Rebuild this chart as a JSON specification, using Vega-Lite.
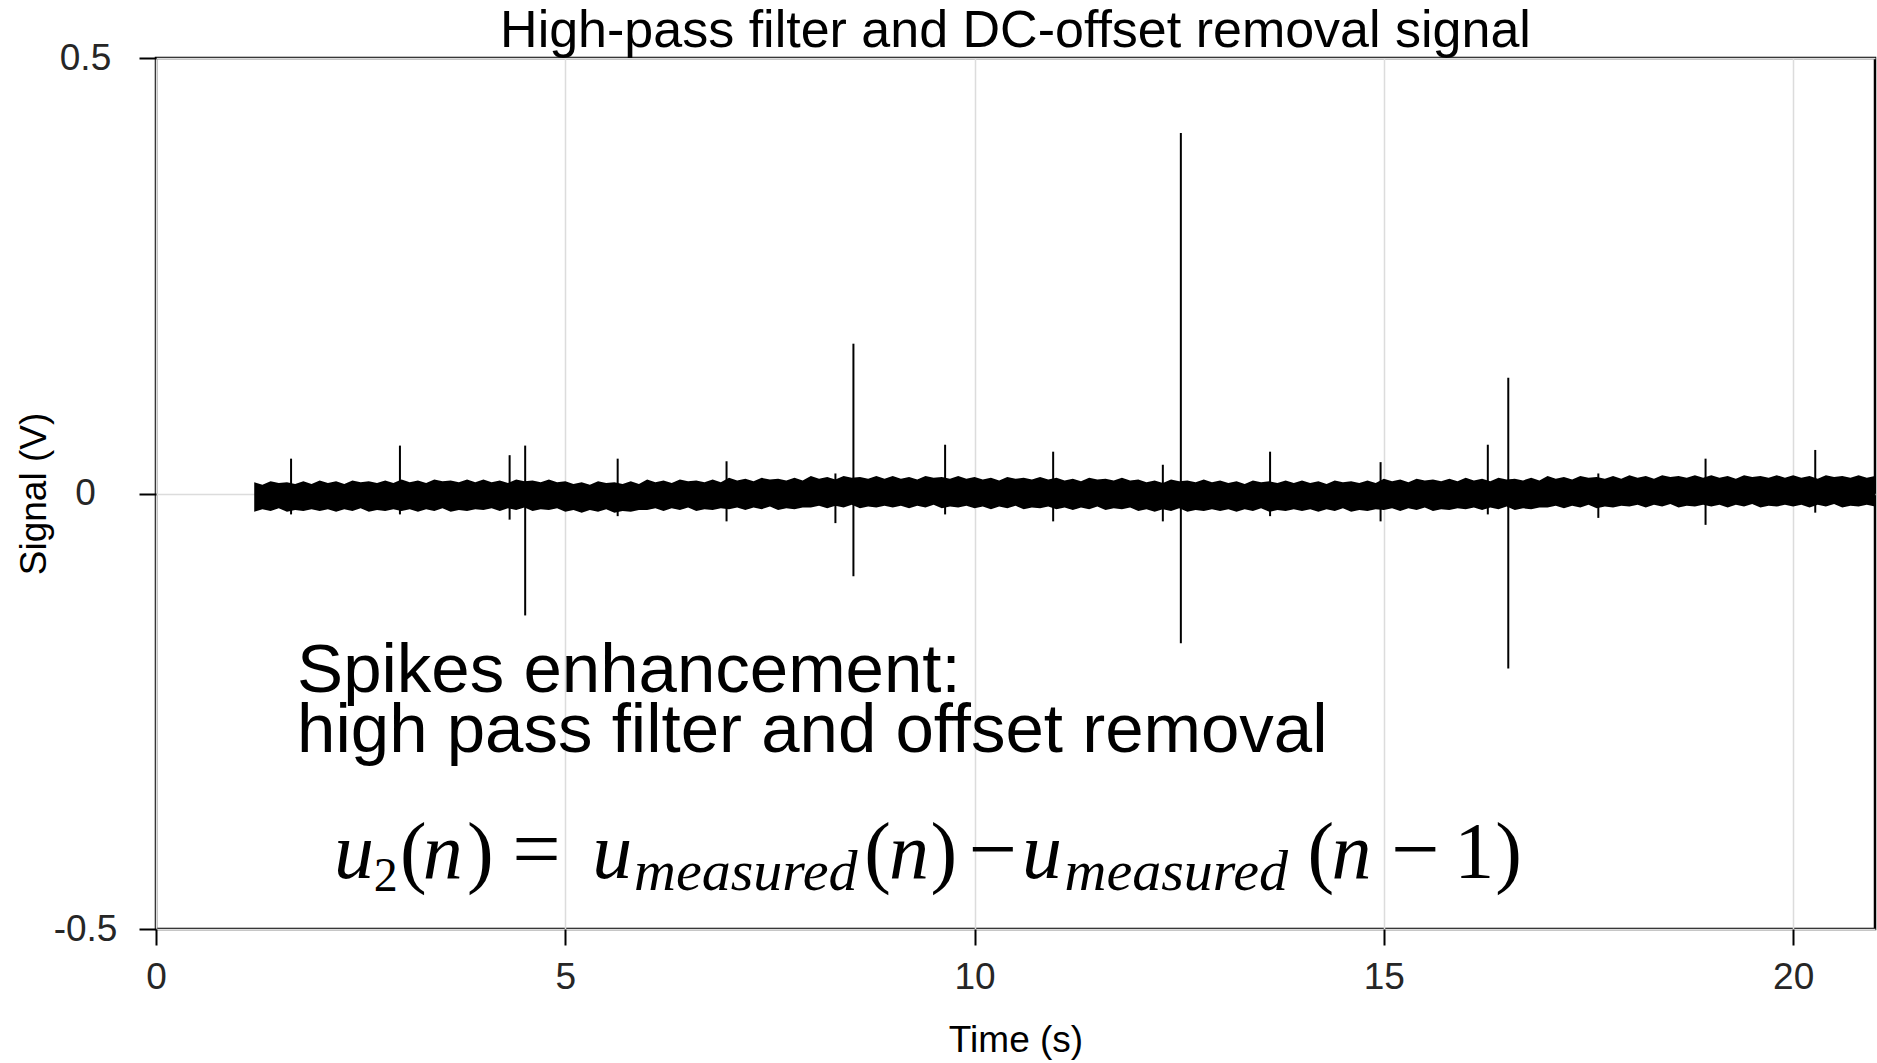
{
"$schema": "https://vega.github.io/schema/vega-lite/v6.json",
"width": 1719, "height": 871,
"autosize": {"type": "none"},
"padding": {"left": 156, "top": 58, "right": 2, "bottom": 134},
"background": "white",
"config": {"view": {"stroke": "black", "strokeWidth": 2.5}},
"title": {"text": "High-pass filter and DC-offset removal signal", "fontSize": 52, "font": "Liberation Sans", "fontWeight": "normal", "color": "black", "anchor": "middle", "frame": "group", "baseline": "alphabetic", "offset": 12, "dy": 72},
"datasets": {
"band": [
{"t":1.2,"hi":0.013,"lo":-0.021},{"t":1.3,"hi":0.010,"lo":-0.018},{"t":1.4,"hi":0.014,"lo":-0.020},{"t":1.5,"hi":0.012,"lo":-0.017},{"t":1.6,"hi":0.013,"lo":-0.021},{"t":1.7,"hi":0.011,"lo":-0.019},{"t":1.8,"hi":0.014,"lo":-0.020},{"t":1.9,"hi":0.011,"lo":-0.018},
{"t":2.0,"hi":0.015,"lo":-0.020},{"t":2.1,"hi":0.012,"lo":-0.018},{"t":2.2,"hi":0.014,"lo":-0.021},{"t":2.3,"hi":0.011,"lo":-0.018},{"t":2.4,"hi":0.015,"lo":-0.020},{"t":2.5,"hi":0.013,"lo":-0.017},{"t":2.6,"hi":0.014,"lo":-0.021},{"t":2.7,"hi":0.012,"lo":-0.019},{"t":2.8,"hi":0.015,"lo":-0.020},{"t":2.9,"hi":0.012,"lo":-0.018},
{"t":3.0,"hi":0.016,"lo":-0.020},{"t":3.1,"hi":0.013,"lo":-0.018},{"t":3.2,"hi":0.015,"lo":-0.021},{"t":3.3,"hi":0.012,"lo":-0.018},{"t":3.4,"hi":0.016,"lo":-0.020},{"t":3.5,"hi":0.014,"lo":-0.017},{"t":3.6,"hi":0.015,"lo":-0.021},{"t":3.7,"hi":0.013,"lo":-0.019},{"t":3.8,"hi":0.016,"lo":-0.020},{"t":3.9,"hi":0.013,"lo":-0.018},
{"t":4.0,"hi":0.016,"lo":-0.019},{"t":4.1,"hi":0.013,"lo":-0.017},{"t":4.2,"hi":0.015,"lo":-0.020},{"t":4.3,"hi":0.012,"lo":-0.017},{"t":4.4,"hi":0.016,"lo":-0.019},{"t":4.5,"hi":0.014,"lo":-0.016},{"t":4.6,"hi":0.015,"lo":-0.020},{"t":4.7,"hi":0.013,"lo":-0.018},{"t":4.8,"hi":0.016,"lo":-0.019},{"t":4.9,"hi":0.013,"lo":-0.017},
{"t":5.0,"hi":0.014,"lo":-0.021},{"t":5.1,"hi":0.011,"lo":-0.019},{"t":5.2,"hi":0.013,"lo":-0.022},{"t":5.3,"hi":0.010,"lo":-0.019},{"t":5.4,"hi":0.014,"lo":-0.021},{"t":5.5,"hi":0.012,"lo":-0.018},{"t":5.6,"hi":0.013,"lo":-0.022},{"t":5.7,"hi":0.011,"lo":-0.020},{"t":5.8,"hi":0.014,"lo":-0.021},{"t":5.9,"hi":0.011,"lo":-0.019},
{"t":6.0,"hi":0.016,"lo":-0.019},{"t":6.1,"hi":0.013,"lo":-0.017},{"t":6.2,"hi":0.015,"lo":-0.020},{"t":6.3,"hi":0.012,"lo":-0.017},{"t":6.4,"hi":0.016,"lo":-0.019},{"t":6.5,"hi":0.014,"lo":-0.016},{"t":6.6,"hi":0.015,"lo":-0.020},{"t":6.7,"hi":0.013,"lo":-0.018},{"t":6.8,"hi":0.016,"lo":-0.019},{"t":6.9,"hi":0.013,"lo":-0.017},
{"t":7.0,"hi":0.018,"lo":-0.018},{"t":7.1,"hi":0.015,"lo":-0.016},{"t":7.2,"hi":0.017,"lo":-0.019},{"t":7.3,"hi":0.014,"lo":-0.016},{"t":7.4,"hi":0.018,"lo":-0.018},{"t":7.5,"hi":0.016,"lo":-0.015},{"t":7.6,"hi":0.017,"lo":-0.019},{"t":7.7,"hi":0.015,"lo":-0.017},{"t":7.8,"hi":0.018,"lo":-0.018},{"t":7.9,"hi":0.015,"lo":-0.016},
{"t":8.0,"hi":0.020,"lo":-0.016},{"t":8.1,"hi":0.017,"lo":-0.014},{"t":8.2,"hi":0.019,"lo":-0.017},{"t":8.3,"hi":0.016,"lo":-0.014},{"t":8.4,"hi":0.020,"lo":-0.016},{"t":8.5,"hi":0.018,"lo":-0.013},{"t":8.6,"hi":0.019,"lo":-0.017},{"t":8.7,"hi":0.017,"lo":-0.015},{"t":8.8,"hi":0.020,"lo":-0.016},{"t":8.9,"hi":0.017,"lo":-0.014},
{"t":9.0,"hi":0.020,"lo":-0.016},{"t":9.1,"hi":0.017,"lo":-0.014},{"t":9.2,"hi":0.019,"lo":-0.017},{"t":9.3,"hi":0.016,"lo":-0.014},{"t":9.4,"hi":0.020,"lo":-0.016},{"t":9.5,"hi":0.018,"lo":-0.013},{"t":9.6,"hi":0.019,"lo":-0.017},{"t":9.7,"hi":0.017,"lo":-0.015},{"t":9.8,"hi":0.020,"lo":-0.016},{"t":9.9,"hi":0.017,"lo":-0.014},
{"t":10.0,"hi":0.019,"lo":-0.017},{"t":10.1,"hi":0.016,"lo":-0.015},{"t":10.2,"hi":0.018,"lo":-0.018},{"t":10.3,"hi":0.015,"lo":-0.015},{"t":10.4,"hi":0.019,"lo":-0.017},{"t":10.5,"hi":0.017,"lo":-0.014},{"t":10.6,"hi":0.018,"lo":-0.018},{"t":10.7,"hi":0.016,"lo":-0.016},{"t":10.8,"hi":0.019,"lo":-0.017},{"t":10.9,"hi":0.016,"lo":-0.015},
{"t":11.0,"hi":0.018,"lo":-0.018},{"t":11.1,"hi":0.015,"lo":-0.016},{"t":11.2,"hi":0.017,"lo":-0.019},{"t":11.3,"hi":0.014,"lo":-0.016},{"t":11.4,"hi":0.018,"lo":-0.018},{"t":11.5,"hi":0.016,"lo":-0.015},{"t":11.6,"hi":0.017,"lo":-0.019},{"t":11.7,"hi":0.015,"lo":-0.017},{"t":11.8,"hi":0.018,"lo":-0.018},{"t":11.9,"hi":0.015,"lo":-0.016},
{"t":12.0,"hi":0.016,"lo":-0.020},{"t":12.1,"hi":0.013,"lo":-0.018},{"t":12.2,"hi":0.015,"lo":-0.021},{"t":12.3,"hi":0.012,"lo":-0.018},{"t":12.4,"hi":0.016,"lo":-0.020},{"t":12.5,"hi":0.014,"lo":-0.017},{"t":12.6,"hi":0.015,"lo":-0.021},{"t":12.7,"hi":0.013,"lo":-0.019},{"t":12.8,"hi":0.016,"lo":-0.020},{"t":12.9,"hi":0.013,"lo":-0.018},
{"t":13.0,"hi":0.015,"lo":-0.020},{"t":13.1,"hi":0.012,"lo":-0.018},{"t":13.2,"hi":0.014,"lo":-0.021},{"t":13.3,"hi":0.011,"lo":-0.018},{"t":13.4,"hi":0.015,"lo":-0.020},{"t":13.5,"hi":0.013,"lo":-0.017},{"t":13.6,"hi":0.014,"lo":-0.021},{"t":13.7,"hi":0.012,"lo":-0.019},{"t":13.8,"hi":0.015,"lo":-0.020},{"t":13.9,"hi":0.012,"lo":-0.018},
{"t":14.0,"hi":0.015,"lo":-0.020},{"t":14.1,"hi":0.012,"lo":-0.018},{"t":14.2,"hi":0.014,"lo":-0.021},{"t":14.3,"hi":0.011,"lo":-0.018},{"t":14.4,"hi":0.015,"lo":-0.020},{"t":14.5,"hi":0.013,"lo":-0.017},{"t":14.6,"hi":0.014,"lo":-0.021},{"t":14.7,"hi":0.012,"lo":-0.019},{"t":14.8,"hi":0.015,"lo":-0.020},{"t":14.9,"hi":0.012,"lo":-0.018},
{"t":15.0,"hi":0.017,"lo":-0.019},{"t":15.1,"hi":0.014,"lo":-0.017},{"t":15.2,"hi":0.016,"lo":-0.020},{"t":15.3,"hi":0.013,"lo":-0.017},{"t":15.4,"hi":0.017,"lo":-0.019},{"t":15.5,"hi":0.015,"lo":-0.016},{"t":15.6,"hi":0.016,"lo":-0.020},{"t":15.7,"hi":0.014,"lo":-0.018},{"t":15.8,"hi":0.017,"lo":-0.019},{"t":15.9,"hi":0.014,"lo":-0.017},
{"t":16.0,"hi":0.018,"lo":-0.018},{"t":16.1,"hi":0.015,"lo":-0.016},{"t":16.2,"hi":0.017,"lo":-0.019},{"t":16.3,"hi":0.014,"lo":-0.016},{"t":16.4,"hi":0.018,"lo":-0.018},{"t":16.5,"hi":0.016,"lo":-0.015},{"t":16.6,"hi":0.017,"lo":-0.019},{"t":16.7,"hi":0.015,"lo":-0.017},{"t":16.8,"hi":0.018,"lo":-0.018},{"t":16.9,"hi":0.015,"lo":-0.016},
{"t":17.0,"hi":0.020,"lo":-0.016},{"t":17.1,"hi":0.017,"lo":-0.014},{"t":17.2,"hi":0.019,"lo":-0.017},{"t":17.3,"hi":0.016,"lo":-0.014},{"t":17.4,"hi":0.020,"lo":-0.016},{"t":17.5,"hi":0.018,"lo":-0.013},{"t":17.6,"hi":0.019,"lo":-0.017},{"t":17.7,"hi":0.017,"lo":-0.015},{"t":17.8,"hi":0.020,"lo":-0.016},{"t":17.9,"hi":0.017,"lo":-0.014},
{"t":18.0,"hi":0.021,"lo":-0.015},{"t":18.1,"hi":0.018,"lo":-0.013},{"t":18.2,"hi":0.020,"lo":-0.016},{"t":18.3,"hi":0.017,"lo":-0.013},{"t":18.4,"hi":0.021,"lo":-0.015},{"t":18.5,"hi":0.019,"lo":-0.012},{"t":18.6,"hi":0.020,"lo":-0.016},{"t":18.7,"hi":0.018,"lo":-0.014},{"t":18.8,"hi":0.021,"lo":-0.015},{"t":18.9,"hi":0.018,"lo":-0.013},
{"t":19.0,"hi":0.021,"lo":-0.015},{"t":19.1,"hi":0.018,"lo":-0.013},{"t":19.2,"hi":0.020,"lo":-0.016},{"t":19.3,"hi":0.017,"lo":-0.013},{"t":19.4,"hi":0.021,"lo":-0.015},{"t":19.5,"hi":0.019,"lo":-0.012},{"t":19.6,"hi":0.020,"lo":-0.016},{"t":19.7,"hi":0.018,"lo":-0.014},{"t":19.8,"hi":0.021,"lo":-0.015},{"t":19.9,"hi":0.018,"lo":-0.013},
{"t":20.0,"hi":0.021,"lo":-0.015},{"t":20.1,"hi":0.018,"lo":-0.013},{"t":20.2,"hi":0.020,"lo":-0.016},{"t":20.3,"hi":0.017,"lo":-0.013},{"t":20.4,"hi":0.021,"lo":-0.015},{"t":20.5,"hi":0.019,"lo":-0.012},{"t":20.6,"hi":0.020,"lo":-0.016},{"t":20.7,"hi":0.018,"lo":-0.014},{"t":20.8,"hi":0.021,"lo":-0.015},{"t":20.9,"hi":0.018,"lo":-0.013},{"t":21.0,"hi":0.020,"lo":-0.015}
],
"spikes": [
{"t":1.65,"top":0.040,"bottom":-0.024},{"t":2.98,"top":0.055,"bottom":-0.024},{"t":4.32,"top":0.044,"bottom":-0.030},{"t":4.51,"top":0.055,"bottom":-0.140},{"t":5.64,"top":0.040,"bottom":-0.026},{"t":6.97,"top":0.037,"bottom":-0.032},{"t":8.30,"top":0.023,"bottom":-0.034},{"t":8.52,"top":0.172,"bottom":-0.095},{"t":9.64,"top":0.056,"bottom":-0.024},{"t":10.96,"top":0.048,"bottom":-0.032},{"t":12.30,"top":0.033,"bottom":-0.032},{"t":12.52,"top":0.414,"bottom":-0.172},{"t":13.61,"top":0.048,"bottom":-0.026},{"t":14.96,"top":0.036,"bottom":-0.032},{"t":16.27,"top":0.056,"bottom":-0.024},{"t":16.52,"top":0.133,"bottom":-0.201},{"t":17.62,"top":0.023,"bottom":-0.028},{"t":18.93,"top":0.040,"bottom":-0.036},{"t":20.27,"top":0.050,"bottom":-0.022}
]
},
"layer": [
{"data": {"name": "band"},
 "mark": {"type": "area", "color": "black", "interpolate": "linear"},
 "encoding": {
  "x": {"field": "t", "type": "quantitative", "scale": {"domain": [0, 21], "nice": false, "zero": false},
    "axis": {"values": [0,5,10,15,20], "format": "d", "labelFlush": false, "grid": true, "gridColor": "#dcdcdc", "gridWidth": 1.5, "domain": false, "tickColor": "black", "tickWidth": 2, "tickSize": 16, "labelFont": "Liberation Sans", "labelFontSize": 37, "labelColor": "#262626", "labelPadding": 14, "title": "Time (s)", "titleFont": "Liberation Sans", "titleFontSize": 37, "titleFontWeight": "normal", "titleColor": "black", "titlePadding": 27}},
  "y": {"field": "hi", "type": "quantitative", "scale": {"domain": [-0.5, 0.5], "nice": false, "zero": false},
    "axis": {"values": [-0.5, 0, 0.5], "labelExpr": "datum.value == 0 ? '0' : (datum.value > 0 ? '0.5' : '-0.5')", "labelFlush": false, "grid": true, "gridColor": "#dcdcdc", "gridWidth": 1.5, "domain": false, "tickColor": "black", "tickWidth": 2, "tickSize": 17, "labelFont": "Liberation Sans", "labelFontSize": 37, "labelColor": "#262626", "labelAlign": "center", "labelBaseline": "middle", "labelPadding": 54, "title": "Signal (V)", "titleFont": "Liberation Sans", "titleFontSize": 37, "titleFontWeight": "normal", "titleColor": "black", "titleAngle": -90, "titleBaseline": "alphabetic", "titleX": -111}},
  "y2": {"field": "lo"}
 }},
{"data": {"name": "spikes"},
 "mark": {"type": "rule", "color": "black", "strokeWidth": 2},
 "encoding": {"x": {"field": "t", "type": "quantitative"}, "y": {"field": "top", "type": "quantitative"}, "y2": {"field": "bottom"}}},
{"data": {"values": [{}]},
 "mark": {"type": "text", "text": ["Spikes enhancement:", "high pass filter and offset removal"], "lineHeight": 60, "font": "Liberation Sans", "fontSize": 69, "align": "left", "baseline": "alphabetic", "fill": "black"},
 "encoding": {"x": {"datum": 1.724, "type": "quantitative"}, "y": {"datum": -0.228, "type": "quantitative"}}},
{"data": {"values": [{}]}, "mark": {"type": "text", "text": "u", "font": "Liberation Serif", "fontStyle": "italic", "fontSize": 80, "align": "left", "baseline": "alphabetic", "fill": "black"}, "encoding": {"x": {"datum": 2.176, "type": "quantitative"}, "y": {"datum": -0.4415, "type": "quantitative"}}},
{"data": {"values": [{}]}, "mark": {"type": "text", "text": "2", "font": "Liberation Serif", "fontSize": 48, "align": "left", "baseline": "alphabetic", "fill": "black"}, "encoding": {"x": {"datum": 2.66, "type": "quantitative"}, "y": {"datum": -0.456, "type": "quantitative"}}},
{"data": {"values": [{}]}, "mark": {"type": "text", "text": "(", "font": "Liberation Serif", "fontSize": 80, "align": "left", "baseline": "alphabetic", "fill": "black"}, "encoding": {"x": {"datum": 2.98, "type": "quantitative"}, "y": {"datum": -0.4415, "type": "quantitative"}}},
{"data": {"values": [{}]}, "mark": {"type": "text", "text": "n", "font": "Liberation Serif", "fontStyle": "italic", "fontSize": 80, "align": "left", "baseline": "alphabetic", "fill": "black"}, "encoding": {"x": {"datum": 3.26, "type": "quantitative"}, "y": {"datum": -0.4415, "type": "quantitative"}}},
{"data": {"values": [{}]}, "mark": {"type": "text", "text": ")", "font": "Liberation Serif", "fontSize": 80, "align": "left", "baseline": "alphabetic", "fill": "black"}, "encoding": {"x": {"datum": 3.8, "type": "quantitative"}, "y": {"datum": -0.4415, "type": "quantitative"}}},
{"data": {"values": [{}]}, "mark": {"type": "text", "text": "=", "font": "Liberation Serif", "fontSize": 86, "align": "left", "baseline": "alphabetic", "fill": "black"}, "encoding": {"x": {"datum": 4.353, "type": "quantitative"}, "y": {"datum": -0.4415, "type": "quantitative"}}},
{"data": {"values": [{}]}, "mark": {"type": "text", "text": "u", "font": "Liberation Serif", "fontStyle": "italic", "fontSize": 80, "align": "left", "baseline": "alphabetic", "fill": "black"}, "encoding": {"x": {"datum": 5.33, "type": "quantitative"}, "y": {"datum": -0.4415, "type": "quantitative"}}},
{"data": {"values": [{}]}, "mark": {"type": "text", "text": "measured", "font": "Liberation Serif", "fontStyle": "italic", "fontSize": 58, "align": "left", "baseline": "alphabetic", "fill": "black"}, "encoding": {"x": {"datum": 5.84, "type": "quantitative"}, "y": {"datum": -0.4553, "type": "quantitative"}}},
{"data": {"values": [{}]}, "mark": {"type": "text", "text": "(", "font": "Liberation Serif", "fontSize": 80, "align": "left", "baseline": "alphabetic", "fill": "black"}, "encoding": {"x": {"datum": 8.652, "type": "quantitative"}, "y": {"datum": -0.4415, "type": "quantitative"}}},
{"data": {"values": [{}]}, "mark": {"type": "text", "text": "n", "font": "Liberation Serif", "fontStyle": "italic", "fontSize": 80, "align": "left", "baseline": "alphabetic", "fill": "black"}, "encoding": {"x": {"datum": 8.955, "type": "quantitative"}, "y": {"datum": -0.4415, "type": "quantitative"}}},
{"data": {"values": [{}]}, "mark": {"type": "text", "text": ")", "font": "Liberation Serif", "fontSize": 80, "align": "left", "baseline": "alphabetic", "fill": "black"}, "encoding": {"x": {"datum": 9.461, "type": "quantitative"}, "y": {"datum": -0.4415, "type": "quantitative"}}},
{"data": {"values": [{}]}, "mark": {"type": "text", "text": "−", "font": "Liberation Serif", "fontSize": 86, "align": "left", "baseline": "alphabetic", "fill": "black"}, "encoding": {"x": {"datum": 9.93, "type": "quantitative"}, "y": {"datum": -0.4415, "type": "quantitative"}}},
{"data": {"values": [{}]}, "mark": {"type": "text", "text": "u", "font": "Liberation Serif", "fontStyle": "italic", "fontSize": 80, "align": "left", "baseline": "alphabetic", "fill": "black"}, "encoding": {"x": {"datum": 10.58, "type": "quantitative"}, "y": {"datum": -0.4415, "type": "quantitative"}}},
{"data": {"values": [{}]}, "mark": {"type": "text", "text": "measured", "font": "Liberation Serif", "fontStyle": "italic", "fontSize": 58, "align": "left", "baseline": "alphabetic", "fill": "black"}, "encoding": {"x": {"datum": 11.1, "type": "quantitative"}, "y": {"datum": -0.4553, "type": "quantitative"}}},
{"data": {"values": [{}]}, "mark": {"type": "text", "text": "(", "font": "Liberation Serif", "fontSize": 80, "align": "left", "baseline": "alphabetic", "fill": "black"}, "encoding": {"x": {"datum": 14.066, "type": "quantitative"}, "y": {"datum": -0.4415, "type": "quantitative"}}},
{"data": {"values": [{}]}, "mark": {"type": "text", "text": "n", "font": "Liberation Serif", "fontStyle": "italic", "fontSize": 80, "align": "left", "baseline": "alphabetic", "fill": "black"}, "encoding": {"x": {"datum": 14.36, "type": "quantitative"}, "y": {"datum": -0.4415, "type": "quantitative"}}},
{"data": {"values": [{}]}, "mark": {"type": "text", "text": "−", "font": "Liberation Serif", "fontSize": 86, "align": "left", "baseline": "alphabetic", "fill": "black"}, "encoding": {"x": {"datum": 15.09, "type": "quantitative"}, "y": {"datum": -0.4415, "type": "quantitative"}}},
{"data": {"values": [{}]}, "mark": {"type": "text", "text": "1", "font": "Liberation Serif", "fontSize": 80, "align": "left", "baseline": "alphabetic", "fill": "black"}, "encoding": {"x": {"datum": 15.86, "type": "quantitative"}, "y": {"datum": -0.4415, "type": "quantitative"}}},
{"data": {"values": [{}]}, "mark": {"type": "text", "text": ")", "font": "Liberation Serif", "fontSize": 80, "align": "left", "baseline": "alphabetic", "fill": "black"}, "encoding": {"x": {"datum": 16.36, "type": "quantitative"}, "y": {"datum": -0.4415, "type": "quantitative"}}}
]
}
